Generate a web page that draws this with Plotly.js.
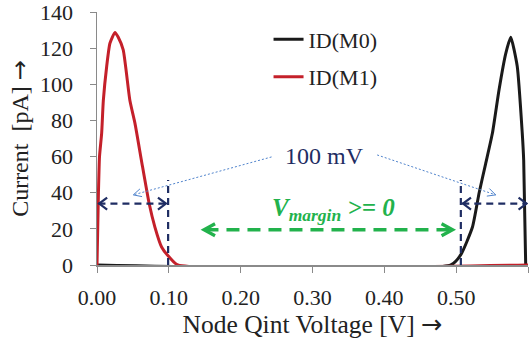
<!DOCTYPE html>
<html>
<head>
<meta charset="utf-8">
<script src="https://cdn.plot.ly/plotly-3.0.1.min.js"></script>
<style>html,body{margin:0;padding:0;background:#fff;}#chart{width:530px;height:339px;}</style>
</head>
<body>
<div id="chart"></div>
<script>
// Series values
var m0X = [0, 0.4926, 0.5065, 0.5227, 0.532, 0.541, 0.5505, 0.5597, 0.569, 0.576, 0.585, 0.592, 0.594, 0.5968];
var m0Y = [0, 0, 5.7, 21, 40, 56, 73, 97, 117, 126, 110, 73, 58, 0];
var m1X = [0, 0.001, 0.002, 0.0035, 0.0065, 0.0088, 0.0135, 0.018, 0.025, 0.0296, 0.0365, 0.0458, 0.0528, 0.0618, 0.0726, 0.0806, 0.0899, 0.1014, 0.1125, 0.6];
var m1Y = [0, 20, 40, 60, 73, 91, 110, 122.7, 128.7, 126, 119, 91, 78.5, 58, 34, 21, 10, 4, 0, 0];
var xTickVals = [0, 0.1, 0.2, 0.3, 0.4, 0.5];
var xTickText = ['0.00', '0.10', '0.20', '0.30', '0.40', '0.50'];
var xEndTick = [0.6];
var yTickVals = [0, 20, 40, 60, 80, 100, 120, 140];
var seriesNames = ['ID(M0)', 'ID(M1)'];

// Annotation geometry (data units)
var marginLow = 0.099, marginHigh = 0.5065;   // vertical dashed markers
var markerTop = 47;
var navyArrowY = 34;
var greenArrow = {x0: 0.149, x1: 0.495, y: 19.5};
var labelPos = {x: 0.317, y: 60.4};
var vLabelPos = {x: 0.329, y: 30.5};
var pointerL = {x0: 0.243, y0: 59.8, x1: 0.0505, y1: 38.8};
var pointerR = {x0: 0.390, y0: 60.9, x1: 0.555, y1: 38.8};

var NAVY = '#1f2d63', GREEN = '#22b24c', BLUE = '#4f83cc';
var FONT = 'Liberation Serif';
var ARROW = '<span style="font-family:DejaVu Sans">\u2192</span>';

var W = 530, H = 339, M = {l: 97, r: 2, t: 12, b: 74};
var XR = [0, 0.6], YR = [0, 140];
var pxX = (W - M.l - M.r) / (XR[1] - XR[0]);
var pxY = (H - M.t - M.b) / (YR[1] - YR[0]);

var traces = [
  {x: m0X, y: m0Y, name: seriesNames[0], mode: 'lines', legendgroup: 'a',
   line: {color: '#1a1a1a', width: 3, shape: 'spline', smoothing: 0.5}},
  {x: m1X, y: m1Y, name: seriesNames[1], mode: 'lines', legendgroup: 'b',
   line: {color: '#c4202a', width: 3, shape: 'spline', smoothing: 0.5}}
];

function dline(x0, y0, x1, y1, color, width, dash) {
  return {type: 'line', xref: 'x', yref: 'y', x0: x0, y0: y0, x1: x1, y1: y1,
          line: {color: color, width: width, dash: dash}};
}
// open chevron arrowhead with tip at (xt,yt), arms pointing back toward (xf,yf)
function chevron(xt, yt, xf, yf, color, width, back, half) {
  var dx = (xf - xt) * pxX, dy = (yf - yt) * pxY;   // pixel direction (y up)
  var len = Math.sqrt(dx * dx + dy * dy);
  var ux = dx / len, uy = dy / len, nx = -uy, ny = ux;
  function pt(s) {
    var px = ux * back + nx * half * s, py = uy * back + ny * half * s;
    return (xt + px / pxX) + ',' + (yt + py / pxY);
  }
  return {type: 'path', xref: 'x', yref: 'y',
          path: 'M' + pt(1) + ' L' + xt + ',' + yt + ' L' + pt(-1),
          line: {color: color, width: width}};
}

var shapes = [
  dline(marginLow, 0, marginLow, markerTop, NAVY, 2.2, '7px,5px'),
  dline(marginHigh, 0, marginHigh, markerTop, NAVY, 2.2, '7px,5px'),
  dline(0.002, navyArrowY, marginLow - 0.002, navyArrowY, NAVY, 2.2, '7px,5px'),
  dline(marginHigh + 0.002, navyArrowY, 0.598, navyArrowY, NAVY, 2.2, '7px,5px'),
  dline(greenArrow.x0 + 0.002, greenArrow.y, greenArrow.x1 - 0.002, greenArrow.y, GREEN, 3.3, '13px,8px'),
  dline(pointerL.x0, pointerL.y0, pointerL.x1, pointerL.y1, BLUE, 1, '2px,2px'),
  dline(pointerR.x0, pointerR.y0, pointerR.x1, pointerR.y1, BLUE, 1, '2px,2px'),
  chevron(0.003, navyArrowY, 0.05, navyArrowY, NAVY, 2.2, 8, 6),
  chevron(marginLow - 0.003, navyArrowY, 0.05, navyArrowY, NAVY, 2.2, 8, 6),
  chevron(marginHigh + 0.003, navyArrowY, 0.55, navyArrowY, NAVY, 2.2, 8, 6),
  chevron(0.598, navyArrowY, 0.55, navyArrowY, NAVY, 2.2, 8, 6),
  chevron(greenArrow.x0, greenArrow.y, 0.3, greenArrow.y, GREEN, 3.3, 11, 6),
  chevron(greenArrow.x1, greenArrow.y, 0.3, greenArrow.y, GREEN, 3.3, 11, 6),
  chevron(pointerL.x1, pointerL.y1, pointerL.x0, pointerL.y0, BLUE, 1, 8, 4),
  chevron(pointerR.x1, pointerR.y1, pointerR.x0, pointerR.y0, BLUE, 1, 8, 4)
];

var annotations = [
  {x: labelPos.x, y: labelPos.y, xref: 'x', yref: 'y', text: '100 mV', showarrow: false,
   font: {family: FONT, size: 24, color: NAVY}},
  {x: vLabelPos.x, y: vLabelPos.y, xref: 'x', yref: 'y', showarrow: false,
   text: '<b><i>V<sub>margin</sub> &gt;= 0</i></b>',
   font: {family: FONT, size: 25, color: GREEN}}
];

var layout = {
  width: W, height: H,
  margin: M,
  paper_bgcolor: '#fff', plot_bgcolor: '#fff',
  font: {family: FONT, size: 22, color: '#222'},
  showlegend: true,
  legend: {x: 0.398, y: 0.975, xanchor: 'left', yanchor: 'top', bgcolor: 'rgba(0,0,0,0)',
           tracegroupgap: 6, font: {family: FONT, size: 22, color: '#222'}},
  xaxis: {range: XR, tickvals: xTickVals, ticktext: xTickText, ticks: 'outside', ticklen: 6,
          tickcolor: '#8a8a8a', showline: true, linecolor: '#8a8a8a', linewidth: 1.5,
          minor: {tickvals: xEndTick, ticks: 'outside', ticklen: 6, tickcolor: '#8a8a8a', showgrid: false},
          showgrid: false, zeroline: false, ticklabelstandoff: 6, ticklabeloverflow: 'allow',
          title: {text: 'Node Qint Voltage [V] ' + ARROW, font: {family: FONT, size: 25.5, color: '#222'}, standoff: 6}},
  yaxis: {range: YR, tickvals: yTickVals, ticks: 'outside', ticklen: 6,
          tickcolor: '#8a8a8a', showline: true, linecolor: '#8a8a8a', linewidth: 1.5,
          showgrid: false, zeroline: false, ticklabelstandoff: 12, ticklabeloverflow: 'allow',
          title: {text: '\u00a0\u00a0\u00a0\u00a0Current\u00a0\u00a0[pA] ' + ARROW, font: {family: FONT, size: 24, color: '#222'}, standoff: 4}},
  shapes: shapes,
  annotations: annotations
};

Plotly.newPlot('chart', traces, layout, {displayModeBar: false, staticPlot: true});
</script>
</body>
</html>
